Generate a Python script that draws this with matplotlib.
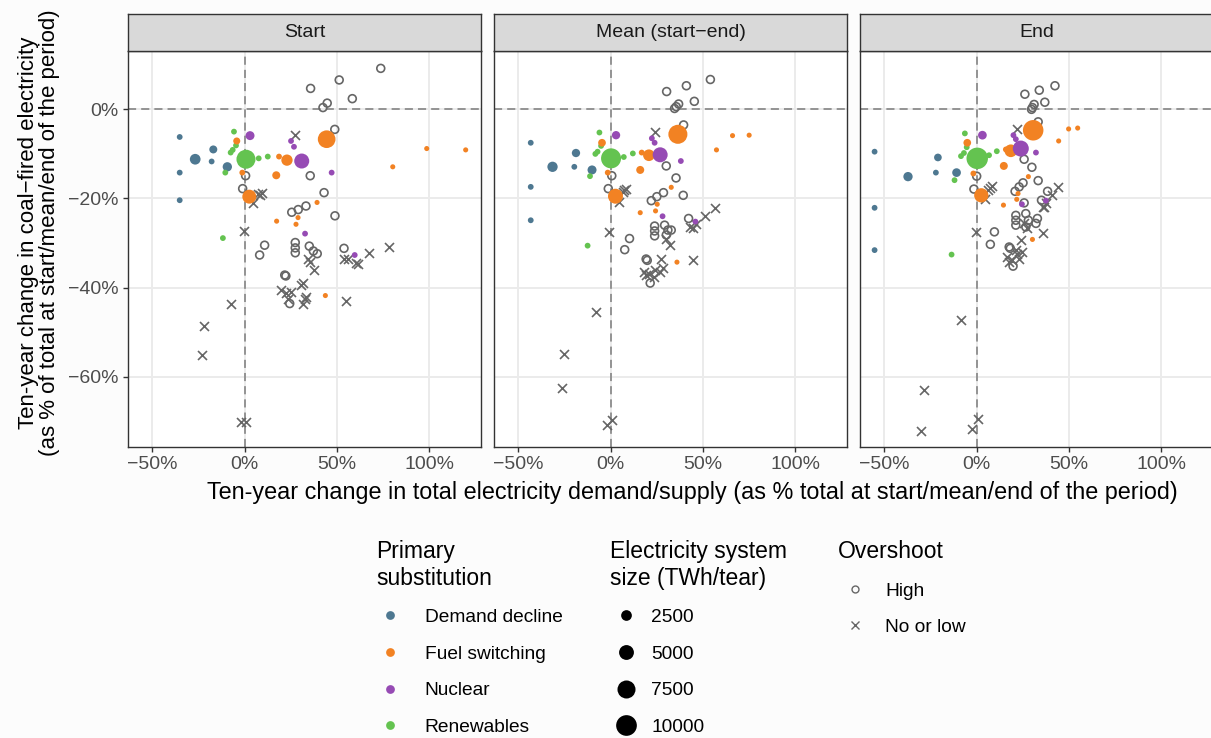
import matplotlib
matplotlib.use("Agg")
import matplotlib.pyplot as plt
from matplotlib.lines import Line2D
import numpy as np

plt.rcParams["font.family"] = ["Liberation Sans", "DejaVu Sans"]

# primary substitution groups
sub_names = ["Demand decline", "Fuel switching", "Nuclear", "Renewables"]
sub_colors = ["#4E7891", "#F28223", "#964BB4", "#64C350"]

# coloured points: same country order in every panel
sub_cat = [0, 0, 0, 0, 0, 0, 0,
           3, 3, 3, 3, 3, 3, 3, 3, 3,
           1, 1, 1, 1, 1, 1, 1, 1, 1, 1, 1, 1, 1, 1, 1,
           2, 2, 2, 2, 2, 2, 2]

start_x = [-35.2, -35.2, -35.2, -26.8, -17.0, -17.9, -9.4,
           0.7, -5.8, -4.7, -6.5, -7.6, 7.6, 12.5, -10.5, -11.8,
           -4.3, -1.3, 2.5, 18.6, 22.9, 17.1, 44.4, 80.2, 98.6, 119.7, 39.2, 17.3, 27.8, 28.9, 43.7,
           2.9, 30.9, 25.1, 26.7, 47.1, 32.7, 59.6]
start_y = [-6.2, -14.2, -20.4, -11.2, -9.0, -11.7, -12.9,
           -11.2, -5.0, -8.1, -9.1, -9.7, -11.0, -10.6, -14.2, -28.9,
           -7.1, -14.2, -19.6, -10.6, -11.4, -14.8, -6.7, -12.9, -8.8, -9.1, -20.9, -25.1, -25.8, -24.3, -41.8,
           -5.9, -11.6, -7.1, -8.4, -14.2, -27.9, -32.7]
start_size = [650, 650, 650, 2500, 1330, 650, 1850,
              8400, 650, 650, 650, 650, 650, 650, 650, 650,
              1000, 650, 4400, 650, 2800, 1330, 7200, 480, 480, 480, 480, 480, 480, 480, 480,
              1700, 5100, 650, 650, 650, 650, 650]

mean_x = [-43.3, -43.3, -43.3, -31.5, -18.8, -19.7, -10.1,
          0.2, -6.1, -5.2, -7.1, -8.3, 7.1, 12.0, -11.2, -12.5,
          -4.7, -1.6, 2.6, 16.8, 20.7, 16.0, 36.4, 57.3, 66.0, 75.0, 32.8, 16.0, 24.3, 25.2, 35.9,
          2.9, 26.8, 22.3, 23.8, 38.0, 28.1, 45.9]
mean_y = [-7.5, -17.4, -24.9, -12.9, -9.8, -12.9, -13.6,
          -11.0, -5.2, -8.2, -9.5, -10.0, -10.7, -9.9, -15.0, -30.6,
          -7.5, -14.2, -19.5, -9.7, -10.3, -13.6, -5.6, -9.1, -5.9, -5.8, -17.5, -23.2, -22.8, -21.3, -34.3,
          -5.8, -10.2, -6.5, -7.5, -11.6, -24.0, -25.2]
mean_size = [650, 650, 650, 2300, 1450, 650, 1720,
             9300, 650, 650, 650, 650, 650, 650, 650, 650,
             1220, 650, 5100, 650, 3000, 1330, 8400, 480, 480, 480, 480, 480, 480, 480, 480,
             1450, 5100, 650, 650, 650, 650, 650]

end_x = [-55.3, -55.3, -55.3, -37.2, -21.0, -22.1, -10.9,
         0.3, -6.4, -5.4, -6.9, -8.5, 6.7, 10.9, -12.0, -13.6,
         -5.1, -1.8, 2.5, 15.8, 18.5, 14.7, 30.6, 44.4, 49.8, 54.7, 28.0, 14.5, 21.7, 22.4, 30.2,
         3.1, 23.9, 19.9, 21.2, 32.1, 24.5, 37.5]
end_y = [-9.5, -22.1, -31.6, -15.1, -10.8, -14.2, -14.2,
         -11.0, -5.4, -8.5, -9.8, -10.5, -10.3, -9.4, -15.9, -32.6,
         -7.5, -14.4, -19.3, -9.0, -9.3, -12.7, -4.7, -7.1, -4.4, -4.2, -15.1, -21.5, -20.2, -18.9, -29.2,
         -5.8, -8.8, -5.8, -6.7, -9.7, -21.3, -20.5]
end_size = [650, 650, 650, 1850, 1220, 650, 1600,
            10800, 650, 650, 650, 650, 650, 650, 650, 650,
            1220, 650, 4600, 650, 3600, 1330, 9800, 480, 480, 480, 480, 480, 480, 480, 480,
            1600, 5850, 650, 650, 650, 650, 650]

# overshoot: high (open circles)
start_high_x = [73.7, 51.2, 35.7, 58.3, 44.7, 42.4, 48.8, 0.5, 35.5, -1.1, 43.0, 25.5, 29.0, 33.2,
                48.9, 10.8, 8.1, 27.4, 27.4, 27.4, 35.0, 37.2, 39.3, 53.8, 21.7, 22.3, 24.4]
start_high_y = [9.2, 6.6, 4.7, 2.4, 1.4, 0.4, -4.5, -14.9, -14.9, -17.8, -18.7, -23.1, -22.5, -21.7,
                -23.9, -30.5, -32.7, -29.9, -31.1, -32.2, -30.7, -31.8, -32.4, -31.2, -37.2, -37.4, -43.6]
mean_high_x = [54.0, 41.0, 30.3, 45.3, 36.8, 35.5, 34.6, 39.5, 0.6, 30.1, 35.4, -1.3, 39.3, 22.0, 25.0,
               28.6, 42.2, 10.2, 7.6, 23.8, 23.8, 23.8, 29.2, 31.0, 32.8, 30.1, 19.2, 19.8, 21.4]
mean_high_y = [6.7, 5.3, 4.0, 1.8, 1.2, 0.6, 0.2, -3.5, -14.9, -12.7, -15.4, -17.8, -19.3, -20.5, -19.6,
               -18.7, -24.5, -29.0, -31.5, -26.2, -27.3, -28.4, -26.0, -27.1, -27.1, -28.2, -33.6, -33.9, -39.0]
end_high_x = [42.4, 33.9, 26.1, 36.9, 31.1, 30.2, 29.7, 33.3, 0.0, 25.7, 29.9, 33.3, -1.5, 20.8, 23.0,
              25.1, 38.4, 35.1, 25.7, 21.2, 21.2, 21.2, 26.6, 28.0, 26.6, 32.1, 32.9, 9.6, 7.4, 17.6,
              18.2, 19.7]
end_high_y = [5.3, 4.3, 3.4, 1.6, 1.1, 0.4, 0.0, -2.8, -15.0, -11.2, -13.0, -16.0, -17.9, -18.4, -17.4,
              -16.5, -18.4, -20.4, -21.0, -23.8, -24.9, -26.0, -23.4, -24.9, -26.4, -25.6, -24.5, -27.5,
              -30.3, -30.9, -31.2, -35.2]

# overshoot: no or low (crosses)
start_low_x = [27.4, 7.4, 8.4, 9.6, 4.7, -0.5, -7.6, -22.0, -23.0, -1.8, 0.9, 34.3, 35.2, 37.5, 31.6,
               30.7, 19.8, 22.5, 25.2, 23.5, 31.6, 32.5, 33.4, 53.8, 56.0, 60.5, 61.4, 67.2, 78.0, 55.0]
start_low_y = [-5.8, -18.9, -19.2, -18.7, -21.1, -27.3, -43.6, -48.7, -55.2, -70.2, -70.2, -33.5, -34.2,
               -36.1, -39.0, -39.5, -40.6, -41.3, -41.0, -42.5, -43.6, -42.5, -42.1, -33.5, -33.7, -34.5,
               -34.8, -32.2, -30.9, -43.1]
mean_low_x = [23.8, 7.4, 8.4, 6.5, 4.3, -0.7, -8.1, -25.3, -26.4, -2.2, 0.9, 56.4, 50.9, 46.4, 42.8,
              44.6, 30.1, 31.9, 44.4, 27.4, 18.3, 21.0, 23.8, 26.5, 28.3, 19.2, 23.2]
mean_low_y = [-5.0, -18.1, -17.8, -18.5, -20.8, -27.6, -45.5, -54.9, -62.5, -70.9, -69.8, -22.2, -24.0,
              -25.8, -26.4, -26.7, -29.0, -30.5, -33.9, -33.5, -36.5, -36.9, -36.1, -36.5, -35.7, -37.2,
              -37.6]
end_low_x = [22.1, 7.2, 8.2, 6.3, 4.5, -0.5, -8.4, -28.6, -30.4, -2.4, 0.7, 43.8, 40.8, 37.5, 35.7,
             36.6, 35.7, 25.7, 27.5, 23.9, 16.6, 19.3, 22.1, 24.8, 23.0, 17.6, 21.2]
end_low_y = [-4.5, -17.6, -17.2, -18.1, -20.2, -27.6, -47.3, -62.9, -72.1, -71.7, -69.6, -17.4, -19.3,
             -21.0, -21.9, -22.0, -27.7, -25.6, -26.7, -29.4, -33.1, -33.9, -32.4, -32.0, -33.5, -34.2,
             -31.6]

facet_titles = ["Start", "Mean (start\u2212end)", "End"]
x_ticks = [-50, 0, 50, 100]
x_tick_labels = ["\u221250%", "0%", "50%", "100%"]
y_ticks = [-60, -40, -20, 0]
y_tick_labels = ["\u221260%", "\u221240%", "\u221220%", "0%"]
size_breaks = [2500, 5000, 7500, 10000]

W, H = 1211, 738
grey = "#666666"


def box(l, t, r, b):
    # pixel box -> figure fraction
    return [l / W, 1 - b / H, (r - l) / W, (b - t) / H]


def diam_pt(v):
    # point diameter in points for a system size in TWh
    return (0.7 + 0.2 * np.sqrt(np.asarray(v, dtype=float))) * 0.72


fig = plt.figure(figsize=(W / 100, H / 100), dpi=100)
fig.patch.set_facecolor("#FCFCFC")

panels = [
    (start_x, start_y, start_size, start_high_x, start_high_y, start_low_x, start_low_y),
    (mean_x, mean_y, mean_size, mean_high_x, mean_high_y, mean_low_x, mean_low_y),
    (end_x, end_y, end_size, end_high_x, end_high_y, end_low_x, end_low_y),
]
lefts = [128, 494, 860]

for i, (cx, cy, cs, hx, hy, lx, ly) in enumerate(panels):
    l = lefts[i]
    ax = fig.add_axes(box(l, 51, l + 353, 447))
    ax.set_facecolor("white")
    ax.set_xlim(-63.2, 128)
    ax.set_ylim(-75.8, 13.1)
    ax.set_xticks(x_ticks)
    ax.set_xticklabels(x_tick_labels)
    ax.set_yticks(y_ticks)
    ax.set_yticklabels(y_tick_labels)
    ax.grid(color="#EBEBEB", lw=1.4, zorder=0)
    ax.set_axisbelow(True)
    ax.axhline(0, color="#8C8C8C", lw=1.3, dashes=(4.5, 2.8), zorder=1)
    ax.axvline(0, color="#8C8C8C", lw=1.3, dashes=(4.5, 2.8), zorder=1)
    for sp in ax.spines.values():
        sp.set_color("#333333")
        sp.set_linewidth(1.0)
    ax.tick_params(length=3.5, width=1, color="#333333", labelcolor="#4D4D4D",
                   labelsize=14, pad=3)
    if i > 0:
        ax.tick_params(left=False, labelleft=False)

    ax.scatter(hx, hy, s=32, marker="o", facecolors="none", edgecolors=grey,
               linewidths=1.2, zorder=2)
    ax.scatter(lx, ly, s=42, marker="x", color=grey, linewidths=1.2, zorder=2)
    cols = [sub_colors[c] for c in sub_cat]
    ax.scatter(cx, cy, s=diam_pt(cs) ** 2, c=cols, linewidths=0, zorder=3)

    st = fig.add_axes(box(l, 14, l + 353, 51))
    st.set_facecolor("#D9D9D9")
    st.set_xticks([])
    st.set_yticks([])
    for sp in st.spines.values():
        sp.set_color("#333333")
        sp.set_linewidth(1.0)
    st.text(0.5, 0.5, facet_titles[i], ha="center", va="center", fontsize=14,
            color="#1A1A1A", transform=st.transAxes)

fig.text(692 / W, 1 - 493 / H,
         "Ten-year change in total electricity demand/supply (as % total at start/mean/end of the period)",
         ha="center", va="center", fontsize=16.8)
fig.text(39 / W, 1 - 233 / H,
         "Ten-year change in coal\u2212fired electricity\n(as % of total at start/mean/end of the period)",
         ha="center", va="center", rotation=90, multialignment="center", fontsize=16,
         linespacing=1.05)

# legends
fs = 13.8
tfs = 16.5
h1 = [Line2D([], [], ls="", marker="o", markersize=6.3, color=c, markeredgewidth=0)
      for c in sub_colors]
leg1 = fig.legend(h1, sub_names, title="Primary\nsubstitution", loc="upper left",
                  bbox_to_anchor=(376 / W, 1 - 540 / H), frameon=False, fontsize=fs,
                  title_fontsize=tfs, alignment="left", borderpad=0, borderaxespad=0,
                  handlelength=1.46, handletextpad=1.09, labelspacing=1.0)

h2 = [Line2D([], [], ls="", marker="o", markersize=diam_pt(v), color="black",
             markeredgewidth=0) for v in size_breaks]
leg2 = fig.legend(h2, [str(v) for v in size_breaks], title="Electricity system\nsize (TWh/tear)",
                  loc="upper left", bbox_to_anchor=(610 / W, 1 - 540 / H), frameon=False,
                  fontsize=fs, title_fontsize=tfs, alignment="left", borderpad=0,
                  borderaxespad=0, handlelength=1.67, handletextpad=0.47, labelspacing=1.0)

h3 = [Line2D([], [], ls="", marker="o", markersize=5, markerfacecolor="none",
             markeredgecolor=grey, markeredgewidth=1.0),
      Line2D([], [], ls="", marker="x", markersize=5.5, color=grey, markeredgewidth=1.0)]
leg3 = fig.legend(h3, ["High", "No or low"], title="Overshoot", loc="upper left",
                  bbox_to_anchor=(838 / W, 1 - 540 / H), frameon=False, fontsize=fs,
                  title_fontsize=tfs, alignment="left", borderpad=0, borderaxespad=0,
                  handlelength=1.77, handletextpad=0.68, labelspacing=1.0)

fig.savefig("out.png", dpi=100, facecolor=fig.get_facecolor())
